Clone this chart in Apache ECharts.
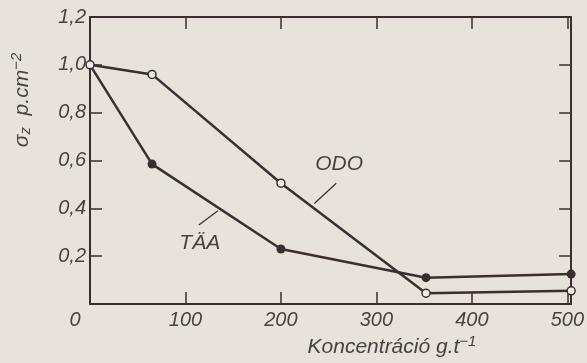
<!DOCTYPE html>
<html>
<head>
<meta charset="utf-8">
<script src="https://cdn.jsdelivr.net/npm/echarts@6/dist/echarts.min.js"></script>
<style>
html,body{margin:0;padding:0;background:#e8e3da;}
#c{width:587px;height:363px;}
</style>
</head>
<body>
<div id="c"></div>
<script>
// Data
var odoX = [0, 65, 200, 352, 504];
var odoY = [1.0, 0.96, 0.505, 0.045, 0.055];
var taaX = [0, 65, 200, 352, 504];
var taaY = [1.0, 0.585, 0.23, 0.11, 0.125];
var xTicks = [0, 100, 200, 300, 400, 500];
var yTicks = [0.2, 0.4, 0.6, 0.8, 1.0, 1.2];

var INK = '#3b2d31';
var TXT = '#4a3f42';
var FONT = "'Liberation Sans', Arial, sans-serif";

function pairs(xs, ys) { return xs.map(function (x, i) { return [x, ys[i]]; }); }

var chart = echarts.init(document.getElementById('c'), null, {renderer: 'canvas'});

var taaData = pairs(taaX, taaY).map(function (p, i) {
  return i === 0 ? {value: p, symbol: 'none'} : {value: p};
});

var tickCommon = {show: true, inside: true, length: 12, lineStyle: {color: INK, width: 1.5}};
var lineCommon = {show: true, onZero: false, lineStyle: {color: INK, width: 2}};

chart.setOption({
  backgroundColor: '#e8e3da',
  animation: false,
  grid: {left: 90, right: 14, top: 17, bottom: 59},
  xAxis: [{
    type: 'value', min: 0, max: 504, interval: 100, position: 'bottom',
    axisLine: lineCommon, axisTick: tickCommon, splitLine: {show: false},
    axisLabel: {
      color: TXT, fontFamily: FONT, fontStyle: 'italic', fontSize: 20, margin: 6,
      formatter: function (v) {
        if (xTicks.indexOf(v) < 0) return '';
        return v === 0 ? '{z|0}' : String(v);
      },
      rich: {z: {color: TXT, fontFamily: FONT, fontStyle: 'italic', fontSize: 20, padding: [0, 30, 0, 0]}}
    }
  }, {
    type: 'value', min: 0, max: 504, interval: 100, position: 'top',
    axisLine: lineCommon, axisTick: tickCommon, axisLabel: {show: false}, splitLine: {show: false}
  }],
  yAxis: [{
    type: 'value', min: 0, max: 1.2, interval: 0.2, position: 'left',
    axisLine: lineCommon, axisTick: tickCommon, splitLine: {show: false},
    axisLabel: {
      color: TXT, fontFamily: FONT, fontStyle: 'italic', fontSize: 20, margin: 4,
      padding: [8, 0, 0, 0],
      formatter: function (v) {
        var r = Math.round(v * 10) / 10;
        if (yTicks.indexOf(r) < 0) return '';
        return r.toFixed(1).replace('.', ',');
      }
    }
  }, {
    type: 'value', min: 0, max: 1.2, interval: 0.2, position: 'right',
    axisLine: lineCommon, axisTick: tickCommon, axisLabel: {show: false}, splitLine: {show: false}
  }],
  series: [{
    name: 'TÄA', type: 'line', data: taaData,
    symbol: 'circle', symbolSize: 9,
    lineStyle: {color: INK, width: 2.5},
    itemStyle: {color: INK, borderColor: INK, borderWidth: 0},
    z: 3
  }, {
    name: 'ODO', type: 'line', data: pairs(odoX, odoY),
    symbol: 'circle', symbolSize: 8,
    lineStyle: {color: INK, width: 2.5},
    itemStyle: {color: '#f2efe9', borderColor: INK, borderWidth: 1.5},
    z: 4
  }]
});

// Annotation labels with leader lines, placed in data coordinates
var annotations = [
  {text: 'ODO', at: [261, 0.585], from: [258, 0.505], to: [235, 0.42]},
  {text: 'TÄA', at: [115, 0.255], from: [134, 0.39], to: [114, 0.33]}
];
var g = [];
annotations.forEach(function (a) {
  var p = chart.convertToPixel({gridIndex: 0}, a.at);
  var f = chart.convertToPixel({gridIndex: 0}, a.from);
  var t = chart.convertToPixel({gridIndex: 0}, a.to);
  g.push({type: 'text', x: p[0], y: p[1], style: {
    text: a.text, fill: TXT, font: 'italic 21px ' + FONT, align: 'center', verticalAlign: 'middle'}});
  g.push({type: 'line', shape: {x1: f[0], y1: f[1], x2: t[0], y2: t[1]},
    style: {stroke: INK, lineWidth: 1.2}});
});
// Axis titles
g.push({type: 'text', x: 392, y: 347, style: {
  text: 'Koncentráció g.t{s|−1}', fill: TXT, font: 'italic 21px ' + FONT,
  align: 'center', verticalAlign: 'middle',
  rich: {s: {fill: TXT, font: 'italic 15px ' + FONT, verticalAlign: 'bottom', padding: [0, 0, 10, 0]}}
}});
g.push({type: 'text', x: 22, y: 100, rotation: Math.PI / 2, style: {
  text: 'σ{z|z}  p.cm{s|−2}', fill: TXT, font: 'italic 21px ' + FONT,
  align: 'center', verticalAlign: 'middle',
  rich: {
    z: {fill: TXT, font: 'italic 15px ' + FONT, padding: [8, 0, 0, 0]},
    s: {fill: TXT, font: 'italic 15px ' + FONT, padding: [0, 0, 10, 0]}
  }
}});
chart.setOption({graphic: g});
</script>
</body>
</html>
